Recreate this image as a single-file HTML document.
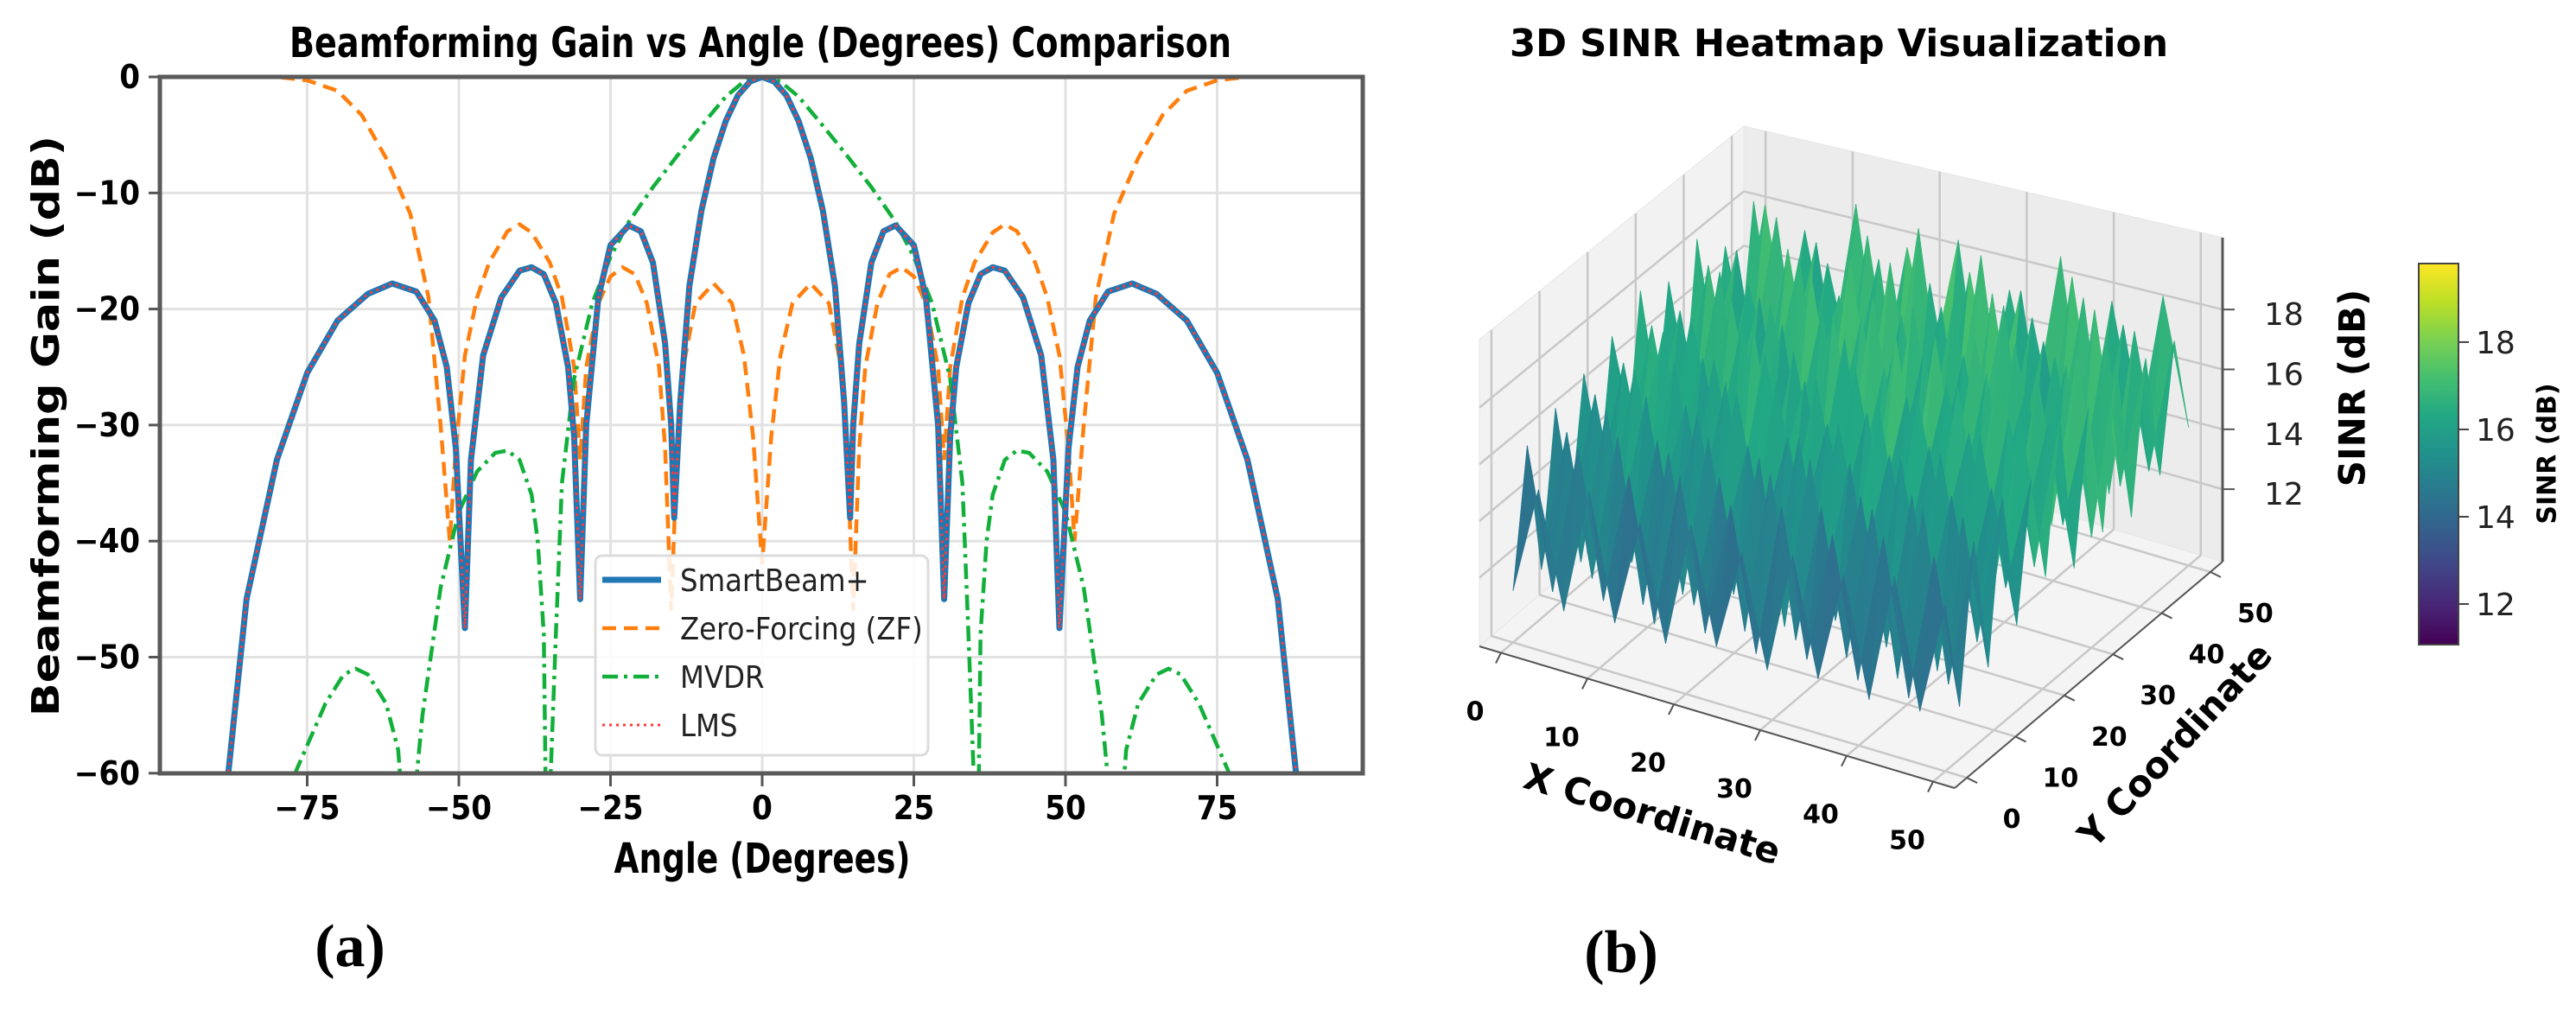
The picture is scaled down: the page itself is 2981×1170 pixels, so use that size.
<!DOCTYPE html>
<html><head><meta charset="utf-8"><style>
html,body{margin:0;padding:0;background:#fff;}
svg{display:block;}
.cond{font-family:"DejaVu Sans Condensed","Liberation Sans Narrow","DejaVu Sans",sans-serif;font-stretch:condensed;}
.dj{font-family:"DejaVu Sans","Liberation Sans",sans-serif;}
.serif{font-family:"Liberation Serif",serif;}
</style></head><body>
<svg id="root" width="2981" height="1170" viewBox="0 0 2981 1170" xmlns="http://www.w3.org/2000/svg">
<defs>
<clipPath id="plotclip"><rect x="185" y="89" width="1392" height="806"/></clipPath>
<linearGradient id="cbgrad" x1="0" y1="1" x2="0" y2="0">
<stop offset="0" stop-color="#440154"/><stop offset="0.1" stop-color="#482475"/><stop offset="0.2" stop-color="#414487"/><stop offset="0.3" stop-color="#355f8d"/><stop offset="0.4" stop-color="#2a788e"/><stop offset="0.5" stop-color="#21918c"/><stop offset="0.6" stop-color="#22a884"/><stop offset="0.7" stop-color="#44bf70"/><stop offset="0.8" stop-color="#7ad151"/><stop offset="0.9" stop-color="#bddf26"/><stop offset="1" stop-color="#fde725"/>
</linearGradient>
</defs>
<g id="left"></g>
<g id="right"></g>
</svg>
<script>
// ---------- Chart (a) data ----------
const xTicks = [-75, -50, -25, 0, 25, 50, 75];
const yTicks = [0, -10, -20, -30, -40, -50, -60];
const smartAngles = [-89,-88,-85,-80,-75,-70,-65,-61,-57,-54,-52,-50.5,-49,-48,-46,-43,-40,-38,-36,-34,-32,-31,-30,-29,-27,-25,-22,-20,-18,-16,-15,-14.5,-13.5,-12,-10,-8,-6,-4,-2,0,2,4,6,8,10,12,13.5,14.5,15,16,18,20,22,25,27,29,30,31,32,34,36,38,40,43,46,48,49,50.5,52,54,57,61,65,70,75,80,85,88,89];
const smartGain = [-70,-60,-45,-33,-25.5,-21,-18.7,-17.8,-18.5,-21,-25,-32,-47.5,-33,-24,-19,-16.7,-16.4,-17,-19.5,-25,-31,-45,-30,-19,-14.5,-12.8,-13.3,-16,-23,-30,-38,-28,-18,-11.5,-7,-3.8,-1.6,-0.4,0,-0.4,-1.6,-3.8,-7,-11.5,-18,-28,-38,-30,-23,-16,-13.3,-12.8,-14.5,-19,-30,-45,-31,-25,-19.5,-17,-16.4,-16.7,-19,-24,-33,-47.5,-32,-25,-21,-18.5,-17.8,-18.7,-21,-25.5,-33,-45,-60,-70];
const lmsAngles = smartAngles.slice();
const lmsGain = [-70,-60,-45,-33,-25.5,-21,-18.7,-17.8,-18.5,-21,-25,-32,-47.5,-33,-24,-19,-16.7,-16.4,-17,-19.5,-25,-31,-45,-30,-19,-14.5,-12.8,-13.3,-16,-23,-30,-38,-28,-18,-11.5,-7,-3.8,-1.6,-0.4,0,-0.4,-1.6,-3.8,-7,-11.5,-18,-28,-38,-30,-23,-16,-13.3,-12.8,-14.5,-19,-30,-45,-31,-25,-19.5,-17,-16.4,-16.7,-19,-24,-33,-47.5,-32,-25,-21,-18.5,-17.8,-18.7,-21,-25.5,-33,-45,-60,-70];
const zfAngles = [-90,-80,-75,-70,-66,-62,-58,-55,-53,-51.5,-50.5,-49,-47,-45,-42,-40,-38,-35,-33,-31,-30,-29,-27,-25,-23,-21,-19,-17,-16,-15,-14,-13,-11,-8,-5,-3,-1.5,0,1.5,3,5,8,11,13,14,15,16,17,19,21,23,25,27,29,30,31,33,35,38,40,42,45,47,49,50.5,51.5,53,55,58,62,66,70,75,80,90];
const zfGain = [0,0,-0.3,-1.2,-3.3,-7,-11.8,-19,-30,-40,-32,-24,-19,-16,-13.3,-12.7,-13.4,-16,-19,-25,-33,-25,-19.5,-17.2,-16.4,-17,-19.5,-25,-32,-46,-32,-25,-19.5,-17.8,-19.5,-24,-31,-42,-31,-24,-19.5,-17.8,-19.5,-25,-32,-46,-32,-25,-19.5,-17,-16.4,-17.2,-19.5,-25,-33,-25,-19,-16,-13.4,-12.7,-13.3,-16,-19,-24,-32,-40,-30,-19,-11.8,-7,-3.3,-1.2,-0.3,0,0];
const mvdrAngles = [-80,-77,-72,-69,-67,-65,-62,-60,-59,-58,-56,-53,-50,-47,-44,-42,-40,-38,-37,-36,-35.5,-35,-34,-33,-31,-28,-25,-22,-18,-14,-10,-6,-3,0,3,6,10,14,18,22,25,28,31,33,34,35,35.5,36,37,38,40,42,44,47,50,53,56,58,59,60,62,65,67,69,72,77,80];
const mvdrGain = [-68,-60,-54,-51.5,-51,-51.5,-54,-58,-65,-66,-55,-44,-37.5,-34,-32.4,-32.2,-33,-36,-40,-48,-70,-62,-48,-35,-26,-19.5,-15.5,-12.5,-9.5,-6.8,-4.2,-1.7,-0.4,0,-0.4,-1.7,-4.2,-6.8,-9.5,-12.5,-15.5,-19.5,-26,-35,-48,-62,-70,-48,-40,-36,-33,-32.2,-32.4,-34,-37.5,-44,-55,-66,-65,-58,-54,-51.5,-51,-51.5,-54,-60,-68];
const legendLabels = ["SmartBeam+", "Zero-Forcing (ZF)", "MVDR", "LMS"];

// ---------- Chart (b) data ----------
const gridX = [0,2.94,5.88,8.82,11.76,14.71,17.65,20.59,23.53,26.47,29.41,32.35,35.29,38.24,41.18,44.12,47.06,50];
const gridY = [50,47.06,44.12,41.18,38.24,35.29,32.35,29.41,26.47,23.53,20.59,17.65,14.71,11.76,8.82,5.88,2.94,0];
const sinrRows = [
[18.2,12.4,17.6,13.1,19.0,12.8,17.9,14.0,18.6,12.2,17.3,13.5,18.9,12.6,17.8,13.3,18.4,14.2],
[12.9,18.7,13.4,17.8,12.3,18.5,13.0,19.2,12.7,18.1,13.6,17.9,12.5,18.8,13.2,17.6,12.9,17.5],
[17.4,13.2,18.9,12.6,17.7,13.8,18.3,12.4,17.9,13.1,19.3,12.8,17.6,13.5,18.7,12.3,18.0,13.4],
[13.6,17.9,12.5,18.4,13.3,17.2,12.6,18.8,13.4,17.7,12.2,18.6,13.1,17.4,12.7,18.9,13.2,17.7],
[18.5,12.8,17.3,13.9,18.7,12.5,19.1,13.2,17.6,12.9,18.3,13.6,18.8,12.4,17.5,13.0,18.6,12.8],
[12.4,18.2,13.6,17.5,12.1,18.9,13.4,17.7,12.8,18.5,13.0,17.3,12.6,18.1,13.7,17.8,12.3,18.3],
[17.8,13.0,18.6,12.3,17.9,13.5,18.1,12.7,19.0,13.3,17.6,12.5,18.4,13.8,17.2,12.9,18.8,13.1],
[13.1,17.4,12.7,18.3,13.6,17.8,12.2,18.6,13.0,17.2,12.6,18.7,13.2,17.9,12.4,18.2,13.5,17.6],
[18.3,12.6,17.8,13.4,18.1,12.4,17.5,13.1,18.4,12.3,18.9,13.7,17.7,12.8,18.6,13.3,17.4,12.7],
[12.8,17.7,13.2,17.0,12.5,18.4,13.3,17.1,12.1,17.9,13.4,17.5,12.3,18.2,13.0,17.6,12.9,18.0],
[17.5,13.4,18.1,12.0,17.6,13.0,18.3,12.6,17.8,13.2,17.1,12.2,18.0,13.6,17.3,12.5,18.2,13.2],
[12.3,17.2,12.9,17.7,12.6,17.4,12.0,17.9,13.1,16.9,12.5,18.1,12.8,17.0,12.2,17.8,13.0,16.8],
[17.0,12.5,17.6,13.1,16.8,12.2,17.7,12.9,16.6,12.3,17.5,13.0,16.9,12.1,17.4,12.7,16.7,12.4],
[12.1,16.9,12.4,17.3,12.0,17.1,12.6,16.5,11.9,17.2,12.3,16.8,11.8,17.4,12.5,16.6,12.0,17.0],
[16.6,11.4,17.0,11.9,16.4,11.3,16.9,11.8,16.7,11.2,17.1,11.9,16.3,11.5,16.8,11.2,16.5,11.8],
[11.3,16.4,11.5,16.7,11.1,16.6,11.6,16.2,11.2,16.8,11.4,16.1,11.3,16.5,11.1,16.9,11.4,16.3],
[16.1,11.2,16.5,11.4,16.0,11.1,16.4,11.3,15.9,11.1,16.3,11.4,15.8,11.2,16.2,11.1,16.0,11.3],
[11.4,15.2,11.2,15.6,11.3,15.0,11.1,15.4,11.5,14.9,11.2,15.3,11.4,15.1,11.2,15.5,11.3,15.0]
];
const axisTicks3d = [0, 10, 20, 30, 40, 50];
const zTicks3d = [12, 14, 16, 18];
const cbTicks = [12, 14, 16, 18];

const NS = "http://www.w3.org/2000/svg";
function mk(parent, tag, attrs, text) {
  const e = document.createElementNS(NS, tag);
  for (const k in attrs) e.setAttribute(k, attrs[k]);
  if (text !== undefined) e.textContent = text;
  parent.appendChild(e);
  return e;
}
const L = document.getElementById('left');
const R = document.getElementById('right');

// ---------- Chart (a) ----------
const X0 = 882, XS = 7.02, Y0 = 89, YS = 13.43;
function xs(a) { return X0 + a * XS; }
function ys(d) { return Y0 - d * YS; }

let t = mk(L, 'text', {x: 880, y: 66, 'text-anchor': 'middle', 'font-size': 48, 'font-weight': 'bold', class: 'cond', textLength: 1090, lengthAdjust: 'spacingAndGlyphs'}, 'Beamforming Gain vs Angle (Degrees) Comparison');



const gridG = mk(L, 'g', {});


xTicks.forEach(v => {
  const l = mk(gridG, 'line', {x1: xs(v), x2: xs(v), y1: 89, y2: 895, stroke: '#e2e2e2', 'stroke-width': 3});
  
  
});
yTicks.forEach(v => {
  const l = mk(gridG, 'line', {x1: 185, x2: 1577, y1: ys(v), y2: ys(v), stroke: '#e2e2e2', 'stroke-width': 3});
  
  
});

function pathFrom(angles, gains) {
  return angles.map((a, i) => (i ? 'L' : 'M') + xs(a).toFixed(1) + ' ' + ys(gains[i]).toFixed(1)).join(' ');
}
const series = mk(L, 'g', {'clip-path': 'url(#plotclip)'});


let p = mk(series, 'path', {d: pathFrom(zfAngles, zfGain), fill: 'none', stroke: '#ff7f0e', 'stroke-width': 4.5, 'stroke-dasharray': '16 9'});


p = mk(series, 'path', {d: pathFrom(mvdrAngles, mvdrGain), fill: 'none', stroke: '#12b03a', 'stroke-width': 4.5, 'stroke-dasharray': '18 7 4 7'});


p = mk(series, 'path', {d: pathFrom(smartAngles, smartGain), fill: 'none', stroke: '#1f77b4', 'stroke-width': 7, 'stroke-linejoin': 'round'});


p = mk(series, 'path', {d: pathFrom(lmsAngles, lmsGain), fill: 'none', stroke: '#ff3b3b', 'stroke-width': 3, 'stroke-dasharray': '3 5'});



let fr = mk(L, 'rect', {x: 185, y: 89, width: 1392, height: 806, fill: 'none', stroke: '#5a5a5a', 'stroke-width': 5});



xTicks.forEach(v => {
  const tk = mk(L, 'line', {x1: xs(v), x2: xs(v), y1: 895, y2: 910, stroke: '#555', 'stroke-width': 3});
  
  
  const lb = mk(L, 'text', {x: xs(v), y: 948, 'text-anchor': 'middle', 'font-size': 38, 'font-weight': 'bold', class: 'cond'}, (v < 0 ? '\u2212' + (-v) : '' + v));
  
  
});
yTicks.forEach(v => {
  const tk = mk(L, 'line', {x1: 172, x2: 185, y1: ys(v), y2: ys(v), stroke: '#555', 'stroke-width': 3});
  
  
  const lb = mk(L, 'text', {x: 162, y: ys(v) + 13, 'text-anchor': 'end', 'font-size': 38, 'font-weight': 'bold', class: 'cond'}, (v < 0 ? '\u2212' + (-v) : '' + v));
  
  
});
t = mk(L, 'text', {x: 882, y: 1010, 'text-anchor': 'middle', 'font-size': 48, 'font-weight': 'bold', class: 'cond', textLength: 343, lengthAdjust: 'spacingAndGlyphs'}, 'Angle (Degrees)');


t = mk(L, 'text', {x: 0, y: 0, transform: 'translate(68,493) rotate(-90)', 'text-anchor': 'middle', 'font-size': 44, 'font-weight': 'bold', class: 'dj', textLength: 672, lengthAdjust: 'spacingAndGlyphs'}, 'Beamforming Gain (dB)');



const lg = mk(L, 'g', {});


let lr = mk(lg, 'rect', {x: 689, y: 643, width: 385, height: 231, rx: 8, fill: 'rgba(255,255,255,0.85)', stroke: '#dcdcdc', 'stroke-width': 3});


const legStyles = [
  {stroke: '#1f77b4', w: 7, dash: ''},
  {stroke: '#ff7f0e', w: 4.5, dash: '16 9'},
  {stroke: '#12b03a', w: 4.5, dash: '18 7 4 7'},
  {stroke: '#ff3b3b', w: 3, dash: '3 5'}
];
legendLabels.forEach((lab, i) => {
  const cy = 671 + i * 56;
  const g = mk(lg, 'g', {});
  
  
  const s = legStyles[i];
  const ln = mk(g, 'line', {x1: 697, x2: 765, y1: cy, y2: cy, stroke: s.stroke, 'stroke-width': s.w, 'stroke-dasharray': s.dash});
  
  
  const tx = mk(g, 'text', {x: 787, y: cy + 13, 'font-size': 36, class: 'cond', fill: '#222'}, lab);
  
  
});

t = mk(L, 'text', {x: 405, y: 1118, 'text-anchor': 'middle', 'font-size': 70, 'font-weight': 'bold', class: 'serif'}, '(a)');



// ---------- Chart (b) ----------
t = mk(R, 'text', {x: 1747, y: 65, 'font-size': 44, 'font-weight': 'bold', class: 'dj', textLength: 762, lengthAdjust: 'spacingAndGlyphs'}, '3D SINR Heatmap Visualization');



const A = [1712, 748], B = [2262, 912], C = [2572, 650], D = [2018, 486];
const HA = 355, HB = 385, HC = 375, HD = 340;
const ZMIN = 9.58, ZMAX = 20.4, AMIN = -2.5, AMAX = 52.5;
function proj(X, Y, Z) {
  const u = (X - AMIN) / (AMAX - AMIN), v = (Y - AMIN) / (AMAX - AMIN);
  const px = (1-u)*(1-v)*A[0] + u*(1-v)*B[0] + u*v*C[0] + (1-u)*v*D[0];
  const py = (1-u)*(1-v)*A[1] + u*(1-v)*B[1] + u*v*C[1] + (1-u)*v*D[1];
  const h = (1-u)*(1-v)*HA + u*(1-v)*HB + u*v*HC + (1-u)*v*HD;
  return [px, py - (Z - ZMIN) / (ZMAX - ZMIN) * h];
}
function poly(parent, pts, attrs) {
  attrs.points = pts.map(q => q[0].toFixed(1) + ',' + q[1].toFixed(1)).join(' ');
  return mk(parent, 'polygon', attrs);
}
const panes = mk(R, 'g', {});


let pn = poly(panes, [proj(AMIN,AMIN,ZMIN), proj(AMIN,AMAX,ZMIN), proj(AMIN,AMAX,ZMAX), proj(AMIN,AMIN,ZMAX)], {fill: '#f2f2f2', stroke: '#e6e6e6'});


pn = poly(panes, [proj(AMIN,AMAX,ZMIN), proj(AMAX,AMAX,ZMIN), proj(AMAX,AMAX,ZMAX), proj(AMIN,AMAX,ZMAX)], {fill: '#ececec', stroke: '#e6e6e6'});


pn = poly(panes, [proj(AMIN,AMIN,ZMIN), proj(AMAX,AMIN,ZMIN), proj(AMAX,AMAX,ZMIN), proj(AMIN,AMAX,ZMIN)], {fill: '#f4f4f4', stroke: '#e6e6e6'});


function gl(a, b) {
  const l = mk(panes, 'line', {x1: a[0], y1: a[1], x2: b[0], y2: b[1], stroke: '#c8c8c8', 'stroke-width': 2.5});
  
  
}
axisTicks3d.forEach(v => {
  gl(proj(v, AMIN, ZMIN), proj(v, AMAX, ZMIN));
  gl(proj(v, AMAX, ZMIN), proj(v, AMAX, ZMAX));
  gl(proj(AMIN, v, ZMIN), proj(AMAX, v, ZMIN));
  gl(proj(AMIN, v, ZMIN), proj(AMIN, v, ZMAX));
});
zTicks3d.forEach(v => {
  gl(proj(AMIN, AMIN, v), proj(AMIN, AMAX, v));
  gl(proj(AMIN, AMAX, v), proj(AMAX, AMAX, v));
});

const viridis = ['#440154','#482475','#414487','#355f8d','#2a788e','#21918c','#22a884','#44bf70','#7ad151','#bddf26','#fde725'];
function hex2rgb(h) { return [parseInt(h.substr(1,2),16), parseInt(h.substr(3,2),16), parseInt(h.substr(5,2),16)]; }
function cmap(f) {
  f = Math.max(0, Math.min(1, f)) * 10;
  const i = Math.min(9, Math.floor(f)), r = f - i;
  const a = hex2rgb(viridis[i]), b = hex2rgb(viridis[i+1]);
  return 'rgb(' + [0,1,2].map(k => Math.round(a[k] + (b[k]-a[k])*r)).join(',') + ')';
}
let vmin = Infinity, vmax = -Infinity;
sinrRows.forEach(r => r.forEach(v => { vmin = Math.min(vmin, v); vmax = Math.max(vmax, v); }));
const CBMIN = Math.min(vmin, 11.07), CBMAX = Math.max(vmax, 19.8);

const surf = mk(R, 'g', {});


const quads = [];
for (let r = 0; r < sinrRows.length - 1; r++) {
  for (let i = 0; i < gridX.length - 1; i++) {
    quads.push({r, i, key: r + i});
  }
}
quads.sort((a, b) => a.key - b.key);
quads.forEach(q => {
  const {r, i} = q;
  const z00 = sinrRows[r][i], z10 = sinrRows[r][i+1], z11 = sinrRows[r+1][i+1], z01 = sinrRows[r+1][i];
  const avg = (z00 + z10 + z11 + z01) / 4;
  const hi = Math.max(z00, z10, z11, z01);
  const col = cmap((0.7 * avg + 0.3 * hi - CBMIN) / (CBMAX - CBMIN) + 0.02);
  const pg = poly(surf, [proj(gridX[i], gridY[r], z00), proj(gridX[i+1], gridY[r], z10), proj(gridX[i+1], gridY[r+1], z11), proj(gridX[i], gridY[r+1], z01)], {fill: col, stroke: col, 'stroke-width': 0.8});
  
  
});

function al(a, b, w) {
  const l = mk(R, 'line', {x1: a[0], y1: a[1], x2: b[0], y2: b[1], stroke: '#555', 'stroke-width': w});
  
  
}
al(proj(AMIN, AMIN, ZMIN), proj(AMAX, AMIN, ZMIN), 2);
al(proj(AMAX, AMIN, ZMIN), proj(AMAX, AMAX, ZMIN), 2);
al(proj(AMAX, AMAX, ZMIN), proj(AMAX, AMAX, ZMAX), 3);
axisTicks3d.forEach(v => {
  const p0 = proj(v, AMIN, ZMIN);
  al(p0, [p0[0] - 6, p0[1] + 12], 2);
  const lb = mk(R, 'text', {x: p0[0] - 30, y: p0[1] + 78, 'text-anchor': 'middle', 'font-size': 30, 'font-weight': 'bold', class: 'dj'}, '' + v);
  
  
  const p1 = proj(AMAX, v, ZMIN);
  al(p1, [p1[0] + 12, p1[1] + 6], 2);
  const lb2 = mk(R, 'text', {x: p1[0] + 52, y: p1[1] + 58, 'text-anchor': 'middle', 'font-size': 30, 'font-weight': 'bold', class: 'dj'}, '' + v);
  
  
});
zTicks3d.forEach(v => {
  const p0 = proj(AMAX, AMAX, v);
  al(p0, [p0[0] + 14, p0[1]], 2);
  const lb = mk(R, 'text', {x: p0[0] + 48, y: p0[1] + 18, 'font-size': 36, class: 'dj', fill: '#222'}, '' + v);
  
  
});
t = mk(R, 'text', {x: 0, y: 0, transform: 'translate(1912,942) rotate(17)', 'text-anchor': 'middle', 'dominant-baseline': 'central', 'font-size': 42, 'font-weight': 'bold', class: 'dj'}, 'X Coordinate');


t = mk(R, 'text', {x: 0, y: 0, transform: 'translate(2517,862) rotate(-47)', 'text-anchor': 'middle', 'dominant-baseline': 'central', 'font-size': 42, 'font-weight': 'bold', class: 'dj'}, 'Y Coordinate');


t = mk(R, 'text', {x: 0, y: 0, transform: 'translate(2722,449) rotate(-90)', 'text-anchor': 'middle', 'dominant-baseline': 'central', 'font-size': 42, 'font-weight': 'bold', class: 'dj'}, 'SINR (dB)');



const CBX = 2799, CBW = 46, CBT = 305, CBB = 746;
function cby(v) { return CBB - (v - CBMIN) / (CBMAX - CBMIN) * (CBB - CBT); }
let cb = mk(R, 'rect', {x: CBX, y: CBT, width: CBW, height: CBB - CBT, fill: 'url(#cbgrad)', stroke: '#444', 'stroke-width': 2});


cbTicks.forEach(v => {
  const tk = mk(R, 'line', {x1: CBX + CBW, x2: CBX + CBW + 12, y1: cby(v), y2: cby(v), stroke: '#444', 'stroke-width': 2});
  
  
  const lb = mk(R, 'text', {x: CBX + CBW + 20, y: cby(v) + 13, 'font-size': 36, class: 'dj', fill: '#222'}, '' + v);
  
  
});
t = mk(R, 'text', {x: 0, y: 0, transform: 'translate(2948,525) rotate(-90)', 'text-anchor': 'middle', 'dominant-baseline': 'central', 'font-size': 30, 'font-weight': 'bold', class: 'dj'}, 'SINR (dB)');



t = mk(R, 'text', {x: 1876, y: 1125, 'text-anchor': 'middle', 'font-size': 70, 'font-weight': 'bold', class: 'serif'}, '(b)');


</script>
</body></html>
